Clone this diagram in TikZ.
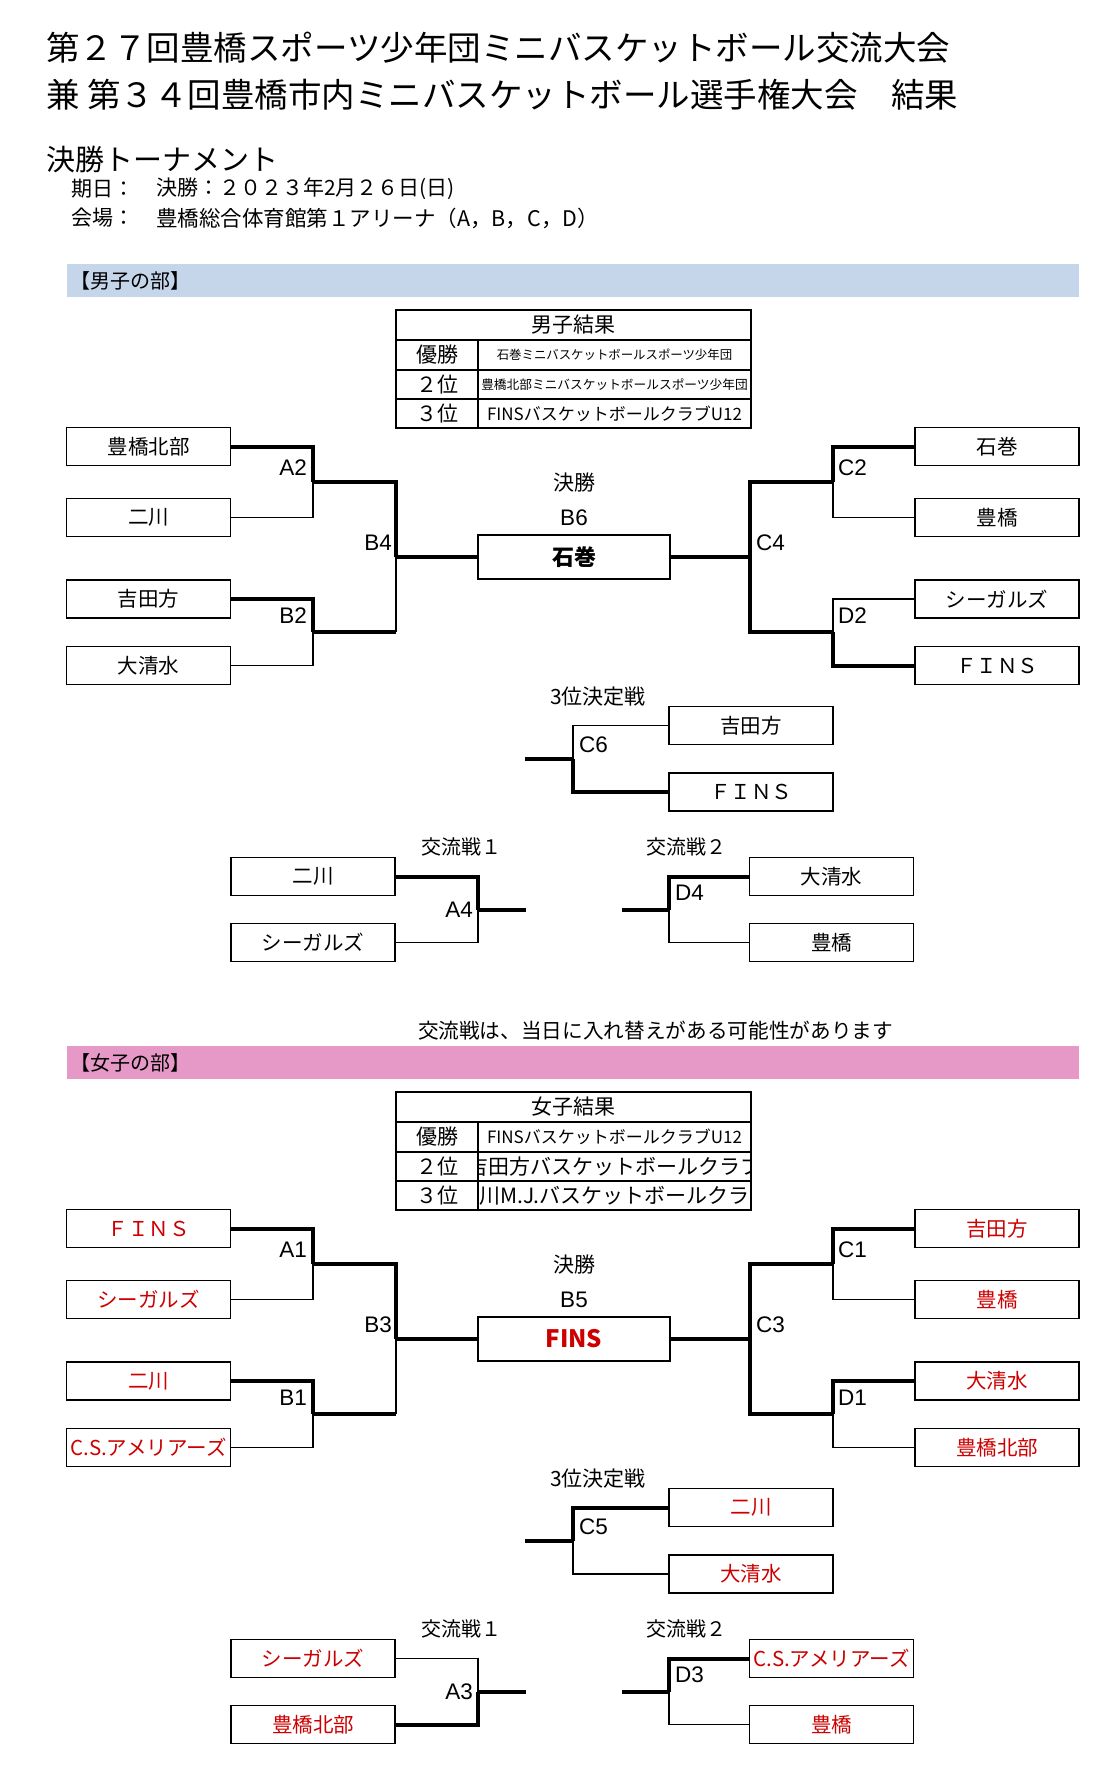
\documentclass[tikz,border=0pt]{standalone}
\usepackage{fontspec}
\setmainfont{Noto Sans CJK JP}
\newfontfamily\latf{Liberation Sans}
\definecolor{jred}{RGB}{204,0,0}
\definecolor{barblue}{RGB}{197,213,234}
\definecolor{barpink}{RGB}{230,153,199}
\newcommand{\myfs}[1]{\fontsize{#1}{#1}\selectfont}
\begin{document}
\begin{tikzpicture}[x=1pt,y=-1pt,
  team/.style={draw=black, line width=1.8, fill=white, minimum width=164, minimum height=38, inner sep=0, font=\myfs{20.5}},
  gteam/.style={team, text=jred},
  finalbox/.style={draw=black, line width=1.8, fill=white, minimum width=192, minimum height=44, inner sep=0},
  thn/.style={line width=1.8},
  thk/.style={line width=4},
  lbl/.style={inner sep=0, font=\myfs{21}},
  mlbl/.style={inner sep=0, font=\latf\myfs{22.5}},
  txt/.style={inner sep=0, anchor=west},
  tline/.style={line width=1.8}
]
\useasboundingbox (0,0) rectangle (1118,1779);
\fill[white] (0,0) rectangle (1118,1779);

% ---------- header ----------
\node[txt, font=\myfs{33.5}] (t1) at (46,48) {第２７回豊橋スポーツ少年団ミニバスケットボール交流大会};
\node[txt, font=\myfs{33.5}] (t2) at (46,95) {兼 第３４回豊橋市内ミニバスケットボール選手権大会　結果};
\node[txt, font=\myfs{29}] (t3) at (46,159.5) {決勝トーナメント};
\node[txt, font=\myfs{21}] (d1) at (71,189) {期日：};
\node[txt, font=\myfs{21}] (d2) at (156,189) {決勝：２０２３年2月２６日(日)};
\node[txt, font=\myfs{21}] (v1) at (71,218) {会場：};
\node[txt, font=\myfs{21.5}] (v2) at (156,218) {豊橋総合体育館第１アリーナ（A，B，C，D）};

% ================= BOYS =================
\fill[barblue] (67,264) rectangle (1079,297);
\node[txt, font=\myfs{20}] (bbar) at (70,281) {【男子の部】};

% results table
\draw[tline] (396,310) rectangle (751,428);
\draw[tline] (396,340) -- (751,340);
\draw[tline] (396,370) -- (751,370);
\draw[tline] (396,399) -- (751,399);
\draw[tline] (478,340) -- (478,428);
\node[lbl] (bth) at (573.5,325) {男子結果};
\node[lbl] (br1l) at (437,355) {優勝};
\node[lbl] (br2l) at (437,384.5) {２位};
\node[lbl] (br3l) at (437,413.5) {３位};
\node[inner sep=0, font=\myfs{12.4}] (br1) at (614.5,355) {石巻ミニバスケットボールスポーツ少年団};
\node[inner sep=0, font=\myfs{12.7}] (br2) at (614.5,384.5) {豊橋北部ミニバスケットボールスポーツ少年団};
\node[inner sep=0, font=\myfs{17}] (br3) at (614.5,413.5) {FINSバスケットボールクラブU12};

% teams
\node[team] (lb1) at (148.5,446.5) {豊橋北部};
\node[team] (lb2) at (148.5,517.5) {二川};
\node[team] (lb3) at (148.5,599) {吉田方};
\node[team] (lb4) at (148.5,665.5) {大清水};
\node[team] (rb1) at (997,446.5) {石巻};
\node[team] (rb2) at (997,517.5) {豊橋};
\node[team] (rb3) at (997,599) {シーガルズ};
\node[team] (rb4) at (997,665.5) {ＦＩＮＳ};
\node[finalbox, font=\myfs{22}\bfseries] (bfin) at (574,557) {石巻};
\node[lbl] (bfl1) at (574,483) {決勝};
\node[mlbl, anchor=base] (bfl2) at (574,525) {B6};

\coordinate (bA2) at (313,482);
\coordinate (bB2) at (313,632.25);
\coordinate (bB4) at (396,557);
\coordinate (bB4b) at (396,632.25);
\coordinate (bC2) at (833,482);
\coordinate (bD2) at (833,632.25);
\coordinate (bC4) at (750,557);

% thin lines
\draw[thn] (lb2.east) -| (bA2);
\draw[thn] (lb4.east) -| (bB2);
\draw[thn] (bB4b) -- (bB4);
\draw[thn] (rb2.west) -| (bC2);
\draw[thn] (rb3.west) -| (bD2);
% thick lines
\draw[thk] (lb1.east) -| (bA2);
\draw[thk] (lb3.east) -| (bB2);
\draw[thk] (bA2) -| (bB4);
\draw[thk] (bB2) -- (bB4b);
\draw[thk] (bB4) -- (bfin.west);
\draw[thk] (bfin.east) -- (bC4);
\draw[thk] (bC4) |- (bC2);
\draw[thk] (bC4) |- (bD2);
\draw[thk] (rb1.west) -| (bC2);
\draw[thk] (rb4.west) -| (bD2);

\node[mlbl, anchor=base east] (lA2) at (307,475) {A2};
\node[mlbl, anchor=base east] (lB2) at (307,623) {B2};
\node[mlbl, anchor=base east] (lB4) at (392,550) {B4};
\node[mlbl, anchor=base west] (lC2) at (838,475) {C2};
\node[mlbl, anchor=base west] (lD2) at (838,623) {D2};
\node[mlbl, anchor=base west] (lC4) at (756,550) {C4};

% 3rd place
\node[lbl] (b3t) at (598,697) {3位決定戦};
\node[team] (tb1) at (751,725.5) {吉田方};
\node[team] (tb2) at (751,792) {ＦＩＮＳ};
\coordinate (bC6) at (573,758.75);
\coordinate (bC6s) at (525,758.75);
\draw[thn] (tb1.west) -| (bC6);
\draw[thk] (tb2.west) -| (bC6);
\draw[thk] (bC6s) -- (bC6);
\node[mlbl, anchor=base west] (lC6) at (579,752) {C6};

% exchange games
\node[lbl, font=\myfs{20}] (bx1t) at (461,847) {交流戦１};
\node[lbl, font=\myfs{20}] (bx2t) at (686,847) {交流戦２};
\node[team] (xb1) at (313,876.5) {二川};
\node[team] (xb2) at (313,942.5) {シーガルズ};
\node[team] (xb3) at (831.5,876.5) {大清水};
\node[team] (xb4) at (831.5,942.5) {豊橋};
\coordinate (bA4) at (478,909.5);
\coordinate (bA4s) at (526,909.5);
\coordinate (bD4) at (669,909.5);
\coordinate (bD4s) at (622,909.5);
\draw[thn] (xb2.east) -| (bA4);
\draw[thk] (xb1.east) -| (bA4);
\draw[thk] (bA4) -- (bA4s);
\draw[thn] (xb4.west) -| (bD4);
\draw[thk] (xb3.west) -| (bD4);
\draw[thk] (bD4s) -- (bD4);
\node[mlbl, anchor=base east] (lA4) at (473,917) {A4};
\node[mlbl, anchor=base west] (lD4) at (675,900) {D4};

\node[inner sep=0, font=\myfs{20.65}] (note) at (655.5,1031) {交流戦は、当日に入れ替えがある可能性があります};

% ================= GIRLS =================
\fill[barpink] (67,1046) rectangle (1079,1079);
\node[txt, font=\myfs{20}] (gbar) at (70,1063) {【女子の部】};

\begin{scope}
\clip (478,1151) rectangle (751,1180);
\node[inner sep=0, font=\myfs{21}] (gr2) at (614.5,1166.5) {吉田方バスケットボールクラブ};
\end{scope}
\begin{scope}
\clip (478,1180) rectangle (751,1210);
\node[inner sep=0, font=\myfs{21}] (gr3) at (614.5,1195.5) {二川M.J.バスケットボールクラブ};
\end{scope}
\draw[tline] (396,1092) rectangle (751,1210);
\draw[tline] (396,1122) -- (751,1122);
\draw[tline] (396,1152) -- (751,1152);
\draw[tline] (396,1181) -- (751,1181);
\draw[tline] (478,1122) -- (478,1210);
\node[lbl] (gth) at (573.5,1107) {女子結果};
\node[lbl] (gr1l) at (437,1137) {優勝};
\node[lbl] (gr2l) at (437,1166.5) {２位};
\node[lbl] (gr3l) at (437,1195.5) {３位};
\node[inner sep=0, font=\myfs{17}] (gr1) at (614.5,1137) {FINSバスケットボールクラブU12};

\node[gteam] (lg1) at (148.5,1228.5) {ＦＩＮＳ};
\node[gteam] (lg2) at (148.5,1299.5) {シーガルズ};
\node[gteam] (lg3) at (148.5,1381) {二川};
\node[gteam] (lg4) at (148.5,1447.5) {C.S.アメリアーズ};
\node[gteam] (rg1) at (997,1228.5) {吉田方};
\node[gteam] (rg2) at (997,1299.5) {豊橋};
\node[gteam] (rg3) at (997,1381) {大清水};
\node[gteam] (rg4) at (997,1447.5) {豊橋北部};
\node[finalbox, text=jred, font=\myfs{24}\bfseries] (gfin) at (574,1339) {FINS};
\node[lbl] (gfl1) at (574,1265) {決勝};
\node[mlbl, anchor=base] (gfl2) at (574,1307) {B5};

\coordinate (gA1) at (313,1264);
\coordinate (gB1) at (313,1414.25);
\coordinate (gB3) at (396,1339);
\coordinate (gB3b) at (396,1414.25);
\coordinate (gC1) at (833,1264);
\coordinate (gD1) at (833,1414.25);
\coordinate (gC3) at (750,1339);

\draw[thn] (lg2.east) -| (gA1);
\draw[thn] (lg4.east) -| (gB1);
\draw[thn] (gB3b) -- (gB3);
\draw[thn] (rg2.west) -| (gC1);
\draw[thn] (rg4.west) -| (gD1);
\draw[thk] (lg1.east) -| (gA1);
\draw[thk] (lg3.east) -| (gB1);
\draw[thk] (gA1) -| (gB3);
\draw[thk] (gB1) -- (gB3b);
\draw[thk] (gB3) -- (gfin.west);
\draw[thk] (gfin.east) -- (gC3);
\draw[thk] (gC3) |- (gC1);
\draw[thk] (gC3) |- (gD1);
\draw[thk] (rg1.west) -| (gC1);
\draw[thk] (rg3.west) -| (gD1);

\node[mlbl, anchor=base east] (lA1) at (307,1257) {A1};
\node[mlbl, anchor=base east] (lB1) at (307,1405) {B1};
\node[mlbl, anchor=base east] (lB3) at (392,1332) {B3};
\node[mlbl, anchor=base west] (lC1) at (838,1257) {C1};
\node[mlbl, anchor=base west] (lD1) at (838,1405) {D1};
\node[mlbl, anchor=base west] (lC3) at (756,1332) {C3};

\node[lbl] (g3t) at (598,1479) {3位決定戦};
\node[gteam] (tg1) at (751,1507.5) {二川};
\node[gteam] (tg2) at (751,1574) {大清水};
\coordinate (gC5) at (573,1540.75);
\coordinate (gC5s) at (525,1540.75);
\draw[thn] (tg2.west) -| (gC5);
\draw[thk] (tg1.west) -| (gC5);
\draw[thk] (gC5s) -- (gC5);
\node[mlbl, anchor=base west] (lC5) at (579,1534) {C5};

\node[lbl, font=\myfs{20}] (gx1t) at (461,1629) {交流戦１};
\node[lbl, font=\myfs{20}] (gx2t) at (686,1629) {交流戦２};
\node[gteam] (xg1) at (313,1658.5) {シーガルズ};
\node[gteam] (xg2) at (313,1724.5) {豊橋北部};
\node[gteam] (xg3) at (831.5,1658.5) {C.S.アメリアーズ};
\node[gteam] (xg4) at (831.5,1724.5) {豊橋};
\coordinate (gA3) at (478,1691.5);
\coordinate (gA3s) at (526,1691.5);
\coordinate (gD3) at (669,1691.5);
\coordinate (gD3s) at (622,1691.5);
\draw[thn] (xg1.east) -| (gA3);
\draw[thk] (xg2.east) -| (gA3);
\draw[thk] (gA3) -- (gA3s);
\draw[thn] (xg4.west) -| (gD3);
\draw[thk] (xg3.west) -| (gD3);
\draw[thk] (gD3s) -- (gD3);
\node[mlbl, anchor=base east] (lA3) at (473,1699) {A3};
\node[mlbl, anchor=base west] (lD3) at (675,1682) {D3};
\end{tikzpicture}
\end{document}
